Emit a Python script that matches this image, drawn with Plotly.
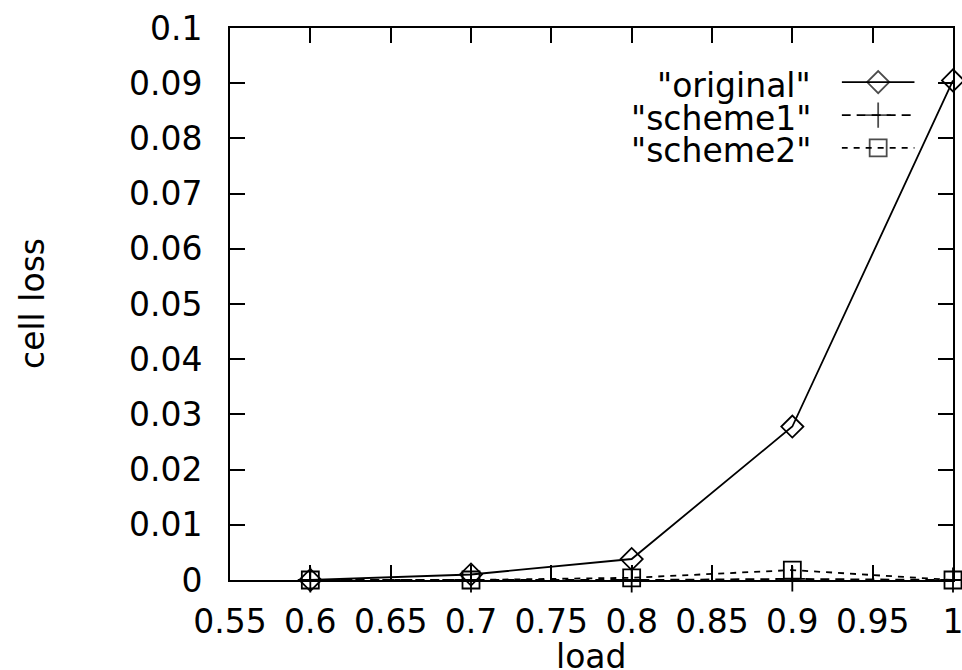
import plotly.graph_objects as go

load = [0.6, 0.7, 0.8, 0.9, 1.0]
original = [0.0, 0.001, 0.0038, 0.0278, 0.0905]
scheme1 = [0.0, 0.0, 0.0, 0.0002, 0.0]
scheme2 = [0.0, 0.0, 0.0004, 0.0018, 0.0]

series_names = ['"original"', '"scheme1"', '"scheme2"']
x_ticks = [0.55, 0.6, 0.65, 0.7, 0.75, 0.8, 0.85, 0.9, 0.95, 1.0]
x_tick_text = ["0.55", "0.6", "0.65", "0.7", "0.75", "0.8", "0.85", "0.9", "0.95", "1"]
y_ticks = [0, 0.01, 0.02, 0.03, 0.04, 0.05, 0.06, 0.07, 0.08, 0.09, 0.1]
y_tick_text = ["0", "0.01", "0.02", "0.03", "0.04", "0.05", "0.06", "0.07", "0.08", "0.09", "0.1"]

FONT = "DejaVu Sans, Liberation Sans, Arial, sans-serif"
FS = 33
styles = [
    dict(symbol="diamond-open", dash="solid", size=17),
    dict(symbol="cross-thin-open", dash="9px,6px", size=18),
    dict(symbol="square-open", dash="6px,6px", size=17),
]
data = [original, scheme1, scheme2]

fig = go.Figure()
for name, ys, st in zip(series_names, data, styles):
    fig.add_trace(go.Scatter(
        x=load, y=ys, mode="lines+markers", name=name, showlegend=False,
        line=dict(color="black", width=1.8, dash=st["dash"]),
        marker=dict(symbol=st["symbol"], size=st["size"], color="black",
                    line=dict(color="black", width=1.8)),
        cliponaxis=False,
    ))

# gnuplot-style key: text on the left, sample on the right
key_rows = [0.902, 0.842, 0.783]  # paper y of key rows
for i, (name, st) in enumerate(zip(series_names, styles)):
    yk = key_rows[i]
    fig.add_annotation(x=0.806, y=yk, xref="paper", yref="paper", text=name,
                       showarrow=False, xanchor="right", yanchor="middle",
                       yshift=-3,
                       font=dict(family=FONT, size=FS, color="black"))
    fig.add_trace(go.Scatter(
        x=[0.0, 0.5, 1.0], y=[yk, yk, yk], xaxis="x2", yaxis="y2",
        mode="lines+markers", showlegend=False, hoverinfo="skip",
        line=dict(color="black", width=1.8, dash=st["dash"]),
        marker=dict(symbol=st["symbol"], size=[0, st["size"], 0], color="black",
                    line=dict(color="black", width=1.8)),
    ))

# axis titles
fig.add_annotation(x=0.5, y=0, xref="paper", yref="paper", text="load",
                   showarrow=False, xanchor="center", yanchor="middle", yshift=-76,
                   font=dict(family=FONT, size=FS, color="black"))
fig.add_annotation(x=0, y=0.5, xref="paper", yref="paper", text="cell loss",
                   showarrow=False, xanchor="center", yanchor="middle", xshift=-198,
                   textangle=-90,
                   font=dict(family=FONT, size=FS, color="black"))

axis_common = dict(
    showline=True, linecolor="black", linewidth=2, mirror="ticks",
    ticks="inside", ticklen=15, tickwidth=2, tickcolor="black",
    showgrid=False, zeroline=False, automargin=False,
    ticklabeloverflow="allow",
    tickfont=dict(family=FONT, size=FS, color="black"),
)

fig.update_layout(
    width=962, height=670,
    margin=dict(l=230, r=9, t=28, b=90, autoexpand=False),
    paper_bgcolor="white", plot_bgcolor="rgba(0,0,0,0)",
    xaxis=dict(range=[0.55, 1.0], tickvals=x_ticks, ticktext=x_tick_text,
               ticklabelstandoff=11, **axis_common),
    yaxis=dict(range=[0, 0.1], tickvals=y_ticks, ticktext=y_tick_text,
               ticklabelstandoff=19, **axis_common),
    xaxis2=dict(domain=[0.846, 0.947], range=[0, 1], anchor="y2",
                visible=False, fixedrange=True, automargin=False),
    yaxis2=dict(domain=[0, 1], range=[0, 1], anchor="x2", visible=False,
                fixedrange=True, automargin=False),
)
# remove the default page margin so the figure fills the window exactly
fig.write_html(
    "out.html",
    config={"displayModeBar": False},
    post_script="document.documentElement.style.margin='0';"
                "document.body.style.margin='0';"
                "document.body.style.overflow='hidden';",
)
